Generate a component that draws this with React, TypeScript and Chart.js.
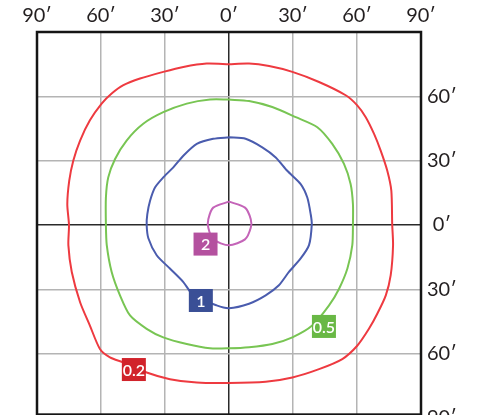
import { useEffect, useRef } from "react";
import { Chart, registerables } from "chart.js";

Chart.register(...registerables);

// Axis ticks (degrees)
const TICKS = [-90, -60, -30, 0, 30, 60, 90];

// Iso levels and their label positions (degrees)
const LEVELS = ["0.2", "0.5", "1", "2"];
const LINE_COLORS = ["#ee3a40", "#78c553", "#4a5cae", "#c464b8"];
const BOX_COLORS = ["#d1232b", "#69b845", "#3a4f96", "#b4519f"];
const LABEL_X = [-44.6, 44.5, -13.2, -11.0];
const LABEL_Y = [-67.4, -47.3, -35.2, -8.9];

// Contour points (x deg, y deg)
const ISO_02: [number, number][] = [
  [0, 75.0], [9.4, 75.3], [18.8, 74.1], [29.7, 71.4], [42.2, 66.7], [54.7, 60.5],
  [60.1, 55.8], [64.1, 50.3], [68.0, 42.5], [71.1, 34.7], [74.2, 25.3], [76.1, 15.9],
  [76.5, 0.3], [76.9, -9.4], [75.8, -23.4], [73.5, -32.8], [69.5, -41.4], [65.6, -48.4],
  [60.1, -56.3], [53.1, -62.5], [42.2, -67.2], [29.7, -71.1], [17.2, -73.1], [0, -73.7],
  [-15.1, -73.5], [-27.7, -71.9], [-38.6, -68.8], [-49.5, -64.1], [-55.8, -61.7],
  [-60.5, -57.8], [-65.2, -46.9], [-69.8, -36.0], [-73.7, -21.9], [-75.3, -9.4],
  [-75.0, 0], [-75.8, 9.7], [-74.9, 20.6], [-73.0, 30.0], [-69.8, 39.4], [-65.2, 48.8],
  [-59.7, 56.6], [-55.0, 61.3], [-49.5, 65.2], [-41.7, 68.3], [-30.8, 71.4],
  [-21.4, 73.7], [-10.5, 75.3], [0, 75.0],
];

const ISO_05: [number, number][] = [
  [0, 58.5], [9.4, 57.8], [20.3, 55.0], [31.3, 50.3], [41.4, 45.6], [48.4, 37.8],
  [53.9, 28.5], [57.0, 19.1], [58.1, 9.7], [58.1, 0.3], [57.8, -9.4], [55.5, -20.3],
  [51.6, -29.7], [46.9, -37.5], [39.0, -46.9], [29.7, -52.4], [20.3, -55.5], [9.4, -57.0],
  [0, -57.5], [-8.9, -57.5], [-19.8, -55.5], [-30.8, -52.4], [-38.6, -48.4],
  [-46.4, -42.2], [-51.1, -32.8], [-55.0, -21.9], [-57.3, -9.4], [-57.7, 0],
  [-57.7, 12.8], [-56.6, 22.2], [-53.4, 30.8], [-48.0, 39.4], [-40.2, 47.2],
  [-30.8, 52.6], [-19.8, 56.6], [-8.9, 58.5], [0, 58.5],
];

const ISO_1: [number, number][] = [
  [0, 40.9], [7.8, 40.2], [15.6, 36.2], [21.9, 31.5], [27.3, 25.3], [33.6, 19.1],
  [36.7, 12.8], [38.3, 5.0], [38.8, 0.3], [37.5, -9.4], [33.6, -15.6], [28.1, -21.9],
  [23.4, -28.1], [17.2, -32.8], [9.4, -36.7], [0, -38.8], [-5.8, -37.5], [-16.7, -32.8],
  [-21.4, -26.6], [-27.7, -20.3], [-33.9, -14.1], [-37.8, -6.2], [-38.6, 0],
  [-38.3, 5.0], [-37.0, 11.3], [-34.7, 17.5], [-30.8, 22.2], [-26.1, 26.9],
  [-21.4, 32.3], [-15.1, 37.8], [-7.4, 40.2], [0, 40.9],
];

const ISO_2: [number, number][] = [
  [0, 10.9], [7.5, 8.1], [10.2, 2.7], [10.2, -1.3], [7.5, -6.7], [0, -9.5],
  [-7.4, -6.7], [-9.7, -1.3], [-9.7, 2.7], [-7.4, 8.1], [0, 10.9],
];

const CONTOURS = [ISO_02, ISO_05, ISO_1, ISO_2];
const FRAME_BOTTOM = -88.4;

const fmt = (v: number) => `${Math.abs(v)}\u2032`;

const overlay = {
  id: "overlay",
  beforeDatasetsDraw(chart: any) {
    const { ctx, chartArea: a, scales } = chart;
    const bottom = scales.y.getPixelForValue(FRAME_BOTTOM);
    ctx.save();
    ctx.strokeStyle = "#151515";
    ctx.lineWidth = 2.5;
    ctx.strokeRect(a.left, a.top, a.right - a.left, bottom - a.top);
    ctx.restore();
  },
  afterDatasetsDraw(chart: any) {
    const { ctx, scales } = chart;
    ctx.save();
    LEVELS.forEach((lvl, i) => {
      const cx = scales.x.getPixelForValue(LABEL_X[i]);
      const cy = scales.y.getPixelForValue(LABEL_Y[i]);
      const w = 24, h = 23;
      ctx.fillStyle = BOX_COLORS[i];
      ctx.fillRect(cx - w / 2, cy - h / 2, w, h);
      ctx.fillStyle = "#ffffff";
      ctx.font = "600 16px Lato, 'Open Sans', sans-serif";
      ctx.textAlign = "center";
      ctx.textBaseline = "middle";
      ctx.fillText(lvl, cx, cy + 1);
    });
    ctx.restore();
  },
};

export default function App() {
  const ref = useRef<HTMLCanvasElement | null>(null);

  useEffect(() => {
    if (!ref.current) return;
    const gridColor = (c: any) => (c.tick && c.tick.value === 0 ? "#2a2a2a" : "#b4b4b4");
    const chart = new Chart(ref.current, {
      type: "scatter",
      data: {
        datasets: CONTOURS.map((pts, i) => ({
          label: LEVELS[i],
          data: pts.map(([x, y]) => ({ x, y })),
          showLine: true,
          borderColor: LINE_COLORS[i],
          borderWidth: 2,
          pointRadius: 0,
          tension: 0.25,
          fill: false,
        })),
      },
      options: {
        responsive: false,
        animation: false,
        devicePixelRatio: 1,
        layout: { padding: { left: 37, right: 0, top: 0, bottom: 14 } },
        plugins: { legend: { display: false }, tooltip: { enabled: false } },
        scales: {
          x: {
            type: "linear",
            position: "top",
            min: -90,
            max: 90,
            afterBuildTicks: (s: any) => {
              s.ticks = TICKS.map((v) => ({ value: v }));
            },
            afterFit: (s: any) => {
              s.height = 32;
            },
            grid: { color: gridColor, lineWidth: 1.5, drawTicks: false },
            border: { display: false },
            ticks: {
              padding: 4,
              color: "#231f20",
              font: { family: "Lato, 'Open Sans', sans-serif", size: 20 },
              callback: (v: any) => fmt(Number(v)),
              maxRotation: 0,
              autoSkip: false,
            },
          },
          y: {
            type: "linear",
            position: "right",
            min: -90,
            max: 90,
            afterBuildTicks: (s: any) => {
              s.ticks = TICKS.map((v) => ({ value: v }));
            },
            afterFit: (s: any) => {
              s.width = 57;
            },
            grid: { color: gridColor, lineWidth: 1.5, drawTicks: false },
            border: { display: false },
            ticks: {
              padding: 6,
              crossAlign: "center",
              color: "#231f20",
              font: { family: "Lato, 'Open Sans', sans-serif", size: 20 },
              callback: (v: any) => (Number(v) === 90 ? "" : fmt(Number(v))),
              autoSkip: false,
            },
          },
        },
      },
      plugins: [overlay],
    } as any);
    return () => chart.destroy();
  }, []);

  return (
    <div
      style={{
        position: "fixed",
        left: 0,
        top: 0,
        width: 478,
        height: 415,
        overflow: "hidden",
        background: "#ffffff",
      }}
    >
      <canvas ref={ref} width={478} height={436} style={{ display: "block" }} />
    </div>
  );
}
